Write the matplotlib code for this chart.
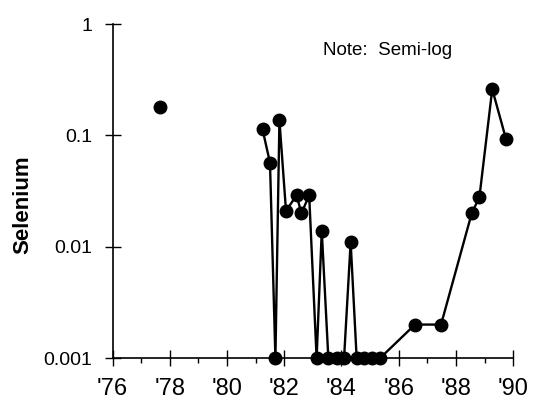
import numpy as np
import matplotlib.pyplot as plt
from matplotlib.ticker import FixedLocator, NullFormatter

plt.rcParams['font.family'] = ['Liberation Sans', 'DejaVu Sans']

# lone early sample (not joined to the rest)
early_year = [77.65]
early_se = [0.18]

years = [81.24, 81.50, 81.69, 81.83, 82.06, 82.43, 82.60, 82.87, 83.13, 83.31,
         83.54, 83.83, 84.09, 84.32, 84.53, 84.79, 85.06, 85.35, 86.57, 87.48,
         88.56, 88.82, 89.27, 89.75]
selenium = [0.113, 0.057, 0.001, 0.137, 0.021, 0.029, 0.020, 0.029, 0.001, 0.0139,
            0.001, 0.001, 0.001, 0.011, 0.001, 0.001, 0.001, 0.001, 0.002, 0.002,
            0.0203, 0.0277, 0.26, 0.093]

xticks = [76, 78, 80, 82, 84, 86, 88, 90]
xlabels = ["'76", "'78", "'80", "'82", "'84", "'86", "'88", "'90"]
yticks = [0.001, 0.01, 0.1, 1]
ylabels = ['0.001', '0.01', '0.1', '1']

fig = plt.figure(figsize=(5.39, 4.01), dpi=100)
ax = fig.add_axes([0.209, 0.107, 0.743, 0.833])

ax.plot(years, selenium, color='black', lw=1.7, marker='o', ms=9, clip_on=False, zorder=3)
ax.plot(early_year, early_se, color='black', ls='none', marker='o', ms=9, clip_on=False, zorder=3)

ax.set_yscale('log')
ax.set_xlim(76, 90)
ax.set_ylim(0.001, 1)

ax.set_xticks(xticks)
ax.set_xticklabels(xlabels, fontsize=17)
ax.xaxis.set_minor_locator(FixedLocator(np.arange(77, 90, 2)))
ax.yaxis.set_major_locator(FixedLocator(yticks))
ax.set_yticklabels(ylabels, fontsize=14)
ax.yaxis.set_minor_locator(FixedLocator([]))
ax.yaxis.set_minor_formatter(NullFormatter())

ax.tick_params(axis='x', which='major', direction='inout', length=11, width=1, pad=9)
ax.tick_params(axis='x', which='minor', direction='out', length=3.5, width=1)
ax.tick_params(axis='y', which='major', direction='inout', length=11, width=1, pad=9)

for s in ['top', 'right']:
    ax.spines[s].set_visible(False)
for s in ['left', 'bottom']:
    ax.spines[s].set_linewidth(1.2)

ax.set_ylabel('Selenium', fontsize=16, fontweight='bold')
ax.yaxis.set_label_coords(-0.198, 0.46)
ax.text(0.525, 0.922, 'Note:  Semi-log', transform=ax.transAxes, fontsize=13.5,
        ha='left', va='center')

fig.savefig('out.png', dpi=100)
